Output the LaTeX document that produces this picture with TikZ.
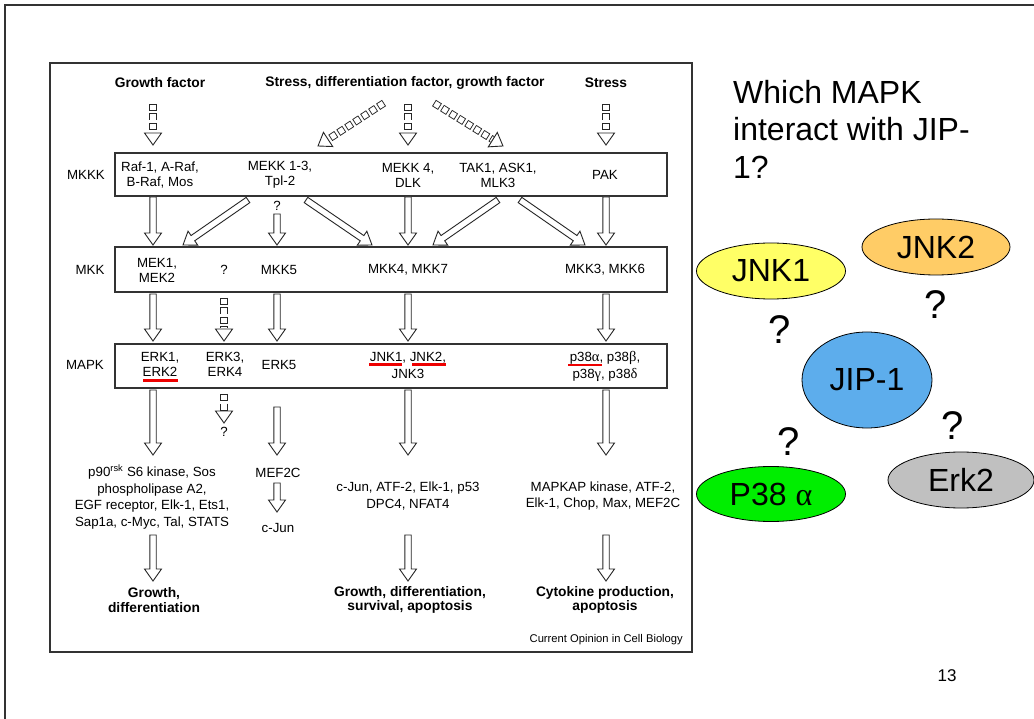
\documentclass[tikz,border=0pt]{standalone}
\usepackage{fontspec}
\setmainfont{Liberation Sans}
\newfontfamily\grk{Liberation Serif}
\usetikzlibrary{calc,shapes.geometric}

\definecolor{framegray}{HTML}{333333}
\definecolor{jnkone}{HTML}{FFFF66}
\definecolor{jnktwo}{HTML}{FFCC66}
\definecolor{jipblue}{HTML}{5DADEC}
\definecolor{pgreen}{HTML}{00EE00}
\definecolor{erkgray}{HTML}{C0C0C0}
\definecolor{markred}{HTML}{EE0000}

\newcommand\figtext{\fontsize{13.3}{15}\selectfont}
\newcommand\fighead{\fontsize{13.8}{14.5}\selectfont\bfseries}
\newcommand\gk[1]{{\grk\fontsize{14.5}{15}\selectfont #1}}

% direction and length between two named points
\newcommand\getdir[2]{%
  \path let \p1=(#1), \p2=(#2) in \pgfextra{%
    \pgfmathsetmacro\tmpang{atan2(\y2-\y1,\x2-\x1)}%
    \pgfmathsetmacro\tmplen{veclen(\x2-\x1,\y2-\y1)}%
    \global\let\arrang\tmpang
    \global\let\arrlen\tmplen};}

% open block arrow
\newcommand\hollowarrow[2]{%
  \getdir{#1}{#2}%
  \begin{scope}[shift={(#1)}, rotate=\arrang]
    \draw[arrowline] (0,-3.2) -- (\arrlen-12,-3.2) -- (\arrlen-12,-8.5) -- (\arrlen,0)
      -- (\arrlen-12,8.5) -- (\arrlen-12,3.2) -- (0,3.2) -- cycle;
  \end{scope}}

% chain of small boxes ending in an open head
\newcommand\chainarrow[2]{%
  \getdir{#1}{#2}%
  \begin{scope}[shift={(#1)}, rotate=\arrang]
    \draw[line width=7.4pt, black!85, dash pattern=on 7pt off 2.5pt] (0,0) -- (\arrlen-12.5,0);
    \draw[line width=5.6pt, white, dash pattern=on 5.2pt off 4.3pt, dash phase=8.6pt] (0,0) -- (\arrlen-12.5,0);
    \draw[arrowline] (\arrlen-12,-8.5) -- (\arrlen,0) -- (\arrlen-12,8.5) -- cycle;
  \end{scope}}

\tikzset{
  arrowline/.style={draw=black!85, line width=0.9pt, fill=white, line join=miter},
  txt/.style={font=\figtext, align=center, inner sep=0pt},
  hdr/.style={font=\fighead, align=center, inner sep=0pt},
  tier/.style={draw=framegray, line width=1.2pt, minimum width=552pt, inner sep=0pt},
  redmark/.style={draw=markred, line width=2.2pt},
  blob/.style={ellipse, draw=black, line width=0.8pt, inner sep=0pt,
    font=\fontsize{32}{36}\selectfont},
  qmark/.style={font=\fontsize{40}{44}\selectfont, inner sep=0pt},
}

\begin{document}
\begin{tikzpicture}[x=1pt,y=-1pt]
\useasboundingbox (0,0) rectangle (1034,719);
\fill[white] (0,0) rectangle (1034,719);

% slide edge and figure frame
\draw[framegray, line width=1.3pt] (5,719) -- (5,5) -- (1034,5);
\draw[framegray, line width=1.3pt] (50,63) rectangle (692,652);

% stimuli
\node[hdr] (gf) at (160,83) {Growth factor};
\node[hdr] (sdg) at (405,83) {Stress, differentiation factor, growth factor};
\node[hdr] (st) at (606,83) {Stress};

% tiers
\node[tier, minimum height=43pt] (mkkk) at (391,174.5) {};
\node[tier, minimum height=45pt] (mkk) at (391,269.5) {};
\node[tier, minimum height=44pt] (mapk) at (391,366) {};

\node[txt] (lmkkk) at (86,175) {MKKK};
\node[txt] (lmkk) at (90,270) {MKK};
\node[txt] (lmapk) at (85,365) {MAPK};

% MKKK tier
\node[txt] (raf) at (160,175) {Raf-1, A-Raf,\\B-Raf, Mos};
\node[txt] (mekk) at (280,175) {MEKK 1-3,\\Tpl-2};
\node[txt] (mekkf) at (408,175) {MEKK 4,\\DLK};
\node[txt] (tak) at (498,175) {TAK1, ASK1,\\MLK3};
\node[txt] (pak) at (605,175) {PAK};

% MKK tier
\node[txt] (mek) at (157,270) {MEK1,\\MEK2};
\node[txt] (mkkq) at (224,270) {?};
\node[txt] (mkkfive) at (279,270) {MKK5};
\node[txt] (mkkfs) at (408,270) {MKK4, MKK7};
\node[txt] (mkkts) at (605,270) {MKK3, MKK6};

% MAPK tier
\node[txt] (erk) at (160,364) {ERK1,\\ERK2};
\node[txt] (erkth) at (225,364) {ERK3,\\ERK4};
\node[txt] (erkfive) at (279,365) {ERK5};
\node[txt, font=\fontsize{13.3}{16.5}\selectfont] (jnk) at (408,365.3) {JNK1, JNK2,\\JNK3};
\node[txt, font=\fontsize{13.3}{16.5}\selectfont] (pte) at (605,366.3) {p38\gk{α}, p38\gk{β},\\p38\gk{γ}, p38\gk{δ}};

\draw[redmark] (143,380.5) -- (178,380.5);
\draw[redmark] (369,364.6) -- (402,364.6);
\draw[redmark] (412,364.6) -- (446,364.6);
\draw[redmark] (568,365.2) -- (602,365.2);

% substrates
\node[txt, font=\fontsize{13.3}{16.5}\selectfont] (subone) at (152,497) {p90\textsuperscript{rsk} S6 kinase, Sos\\phospholipase A2,\\EGF receptor, Elk-1, Ets1,\\Sap1a, c-Myc, Tal, STATS};
\node[txt] (mef) at (278,473) {MEF2C};
\node[txt] (cjun) at (278,528) {c-Jun};
\node[txt, font=\fontsize{13.3}{16.5}\selectfont] (subjnk) at (408,496) {c-Jun, ATF-2, Elk-1, p53\\DPC4, NFAT4};
\node[txt, font=\fontsize{13.3}{16.5}\selectfont] (subp) at (603,496) {MAPKAP kinase, ATF-2,\\Elk-1, Chop, Max, MEF2C};

% outcomes
\node[hdr] (outone) at (154,600) {Growth,\\differentiation};
\node[hdr] (outjnk) at (410,600) {Growth, differentiation,\\survival, apoptosis};
\node[hdr] (outp) at (605,600) {Cytokine production,\\apoptosis};

\node[inner sep=0pt, font=\fontsize{11.2}{12}\selectfont, anchor=east] (src) at (683,640) {Current Opinion in Cell Biology};

% question marks inside the scheme
\node[txt] (qmekk) at (277,206) {?};
\node[txt] (qerk) at (224,432) {?};

% chain arrows from the stimuli
\foreach \nm/\sx/\sy/\ex/\ey in {ca/153/104/153/145, cb/384/103/318/146, cc/408/104/408/145,
    cd/434/103/503/146, ce/606/104/606/145, cf/224/298/224/341, cg/224/394/224/423} {
  \coordinate (s\nm) at (\sx,\sy);
  \coordinate (e\nm) at (\ex,\ey);
  \chainarrow{s\nm}{e\nm}
}

% open block arrows
\foreach \nm/\sx/\sy/\ex/\ey in {
    ba/153/197/153/245, bb/248/200/183/245, bc/277/214/277/245, bd/306/200/372/245,
    be/408/197/408/245, bf/498/200/433/245, bg/520/200/585/245, bh/606/197/606/245,
    bi/153/294/153/341, bj/277/294/277/341, bk/408/294/408/341, bl/606/294/606/341,
    bm/153/390/153/455, bn/277/407/277/455, bo/408/390/408/455, bp/606/390/606/455,
    bq/277/483/277/512,
    br/153/535/153/581, bs/408/535/408/581, bt/606/535/606/581} {
  \coordinate (s\nm) at (\sx,\sy);
  \coordinate (e\nm) at (\ex,\ey);
  \hollowarrow{s\nm}{e\nm}
}

% question panel
\node[anchor=north west, inner sep=0pt, align=left, font=\fontsize{32}{37.5}\selectfont] (ask) at (733,80)
  {Which MAPK\\interact with JIP-\\1?};

\node[blob, fill=jnkone, minimum width=149pt, minimum height=56pt] (jnkone) at (771,271) {JNK1};
\node[blob, fill=jnktwo, minimum width=148pt, minimum height=56pt] (jnktwo) at (936,247) {JNK2};
\node[blob, fill=jipblue, minimum width=130pt, minimum height=96pt] (jip) at (867,380) {JIP-1};
\node[blob, fill=pgreen, minimum width=149pt, minimum height=55pt] (pthirty) at (771,494) {P38 {\grk α}};
\node[blob, fill=erkgray, minimum width=146pt, minimum height=56pt] (erktwo) at (961,480) {Erk2};

\node[qmark] (qa) at (780,330) {?};
\node[qmark] (qb) at (936,305) {?};
\node[qmark] (qc) at (789,442) {?};
\node[qmark] (qd) at (953,426) {?};

\node[inner sep=0pt, font=\fontsize{17}{20}\selectfont] (page) at (947,676) {13};
\end{tikzpicture}
\end{document}
